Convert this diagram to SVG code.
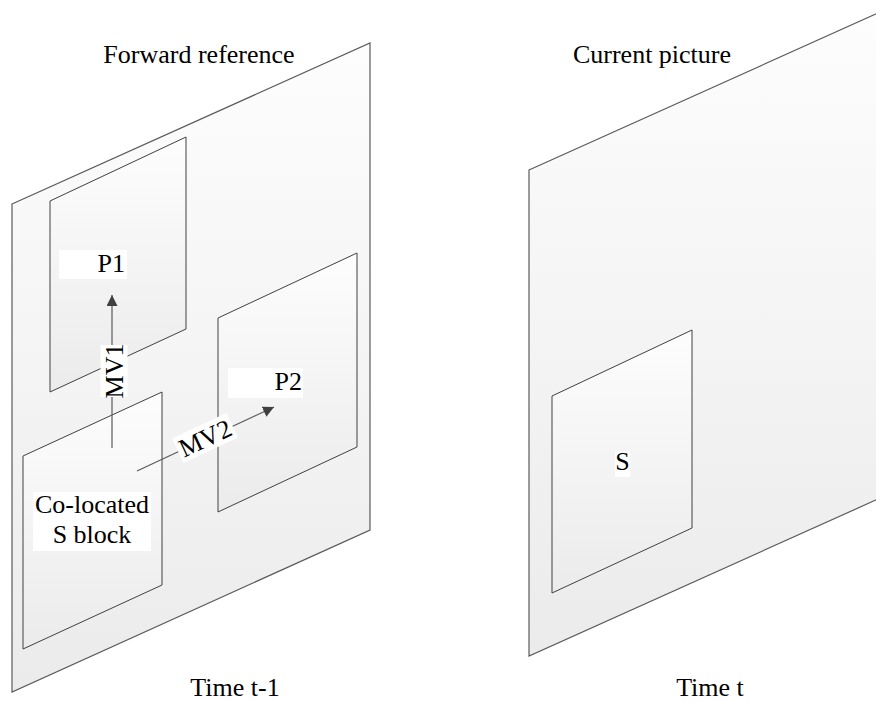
<svg xmlns="http://www.w3.org/2000/svg" width="876" height="702" viewBox="0 0 876 702">
  <style>
    .plane { fill: url(#g); stroke: #5a5a5a; stroke-width: 1.2; }
    .block { fill: url(#g); stroke: #404040; stroke-width: 1; }
    .lbl { font-size: 26px; fill: #000; }
    .bg { fill: #ffffff; }
    .conn { stroke: #5a5a5a; stroke-width: 1.2; fill: none; marker-end: url(#arr); }
  </style>
  <defs>
    <linearGradient id="g" x1="0" y1="0" x2="0" y2="1">
      <stop offset="0" stop-color="#fdfdfd"/>
      <stop offset="1" stop-color="#ebebeb"/>
    </linearGradient>
    <marker id="arr" markerUnits="userSpaceOnUse" markerWidth="11" markerHeight="11" refX="11" refY="5.5" orient="auto">
      <path d="M0,0 L11,5.5 L0,11 z" fill="#404040"/>
    </marker>
  </defs>
  <rect width="876" height="702" fill="#ffffff"/>

  <g id="plane-forward">
    <polygon class="plane" points="12,204 370,43 370,530 12,692"/>
  </g>
  <g id="plane-current">
    <polygon class="plane" points="529,170 887,9 887,495 529,656"/>
  </g>

  <g id="block-p1">
    <polygon class="block" points="50,201 186,137 186,329 50,392"/>
  </g>
  <g id="block-p2">
    <polygon class="block" points="218,318 357,253 357,447 218,512"/>
  </g>
  <g id="block-colocated">
    <polygon class="block" points="23,456 162,392 162,585 23,649"/>
  </g>
  <g id="block-s">
    <polygon class="block" points="552,396 692,330 692,528 552,593"/>
  </g>

  <g id="connectors">
    <line class="conn" x1="112" y1="448" x2="112" y2="295"/>
    <line class="conn" x1="137" y1="471" x2="274" y2="407"/>
  </g>

  <g id="labels" font-family="Liberation Serif, Times New Roman, Tinos, DejaVu Serif, serif">
    <text class="lbl" x="199" y="63" text-anchor="middle">Forward reference</text>
    <text class="lbl" x="652" y="63" text-anchor="middle">Current picture</text>
    <text class="lbl" x="235" y="696" text-anchor="middle">Time t-1</text>
    <text class="lbl" x="710" y="696" text-anchor="middle">Time t</text>

    <rect class="bg" x="59" y="250" width="68" height="29"/>
    <text class="lbl" x="125" y="272" text-anchor="end">P1</text>

    <rect class="bg" x="228" y="368" width="75" height="30"/>
    <text class="lbl" x="302" y="390" text-anchor="end">P2</text>

    <rect class="bg" x="33" y="492" width="118" height="59"/>
    <text class="lbl" x="92" y="513" text-anchor="middle">Co-located</text>
    <text class="lbl" x="92" y="543" text-anchor="middle">S block</text>

    <rect class="bg" x="615" y="451" width="15" height="26"/>
    <text class="lbl" x="622.5" y="470" text-anchor="middle">S</text>

    <g transform="translate(114,371) rotate(-90)">
      <rect class="bg" x="-26" y="-13.5" width="52" height="27"/>
      <text class="lbl" x="0" y="9" text-anchor="middle">MV1</text>
    </g>
    <g transform="translate(205,438) rotate(-25)">
      <rect class="bg" x="-30" y="-13.5" width="60" height="27"/>
      <text class="lbl" x="0" y="9" text-anchor="middle">MV2</text>
    </g>
  </g>
</svg>
